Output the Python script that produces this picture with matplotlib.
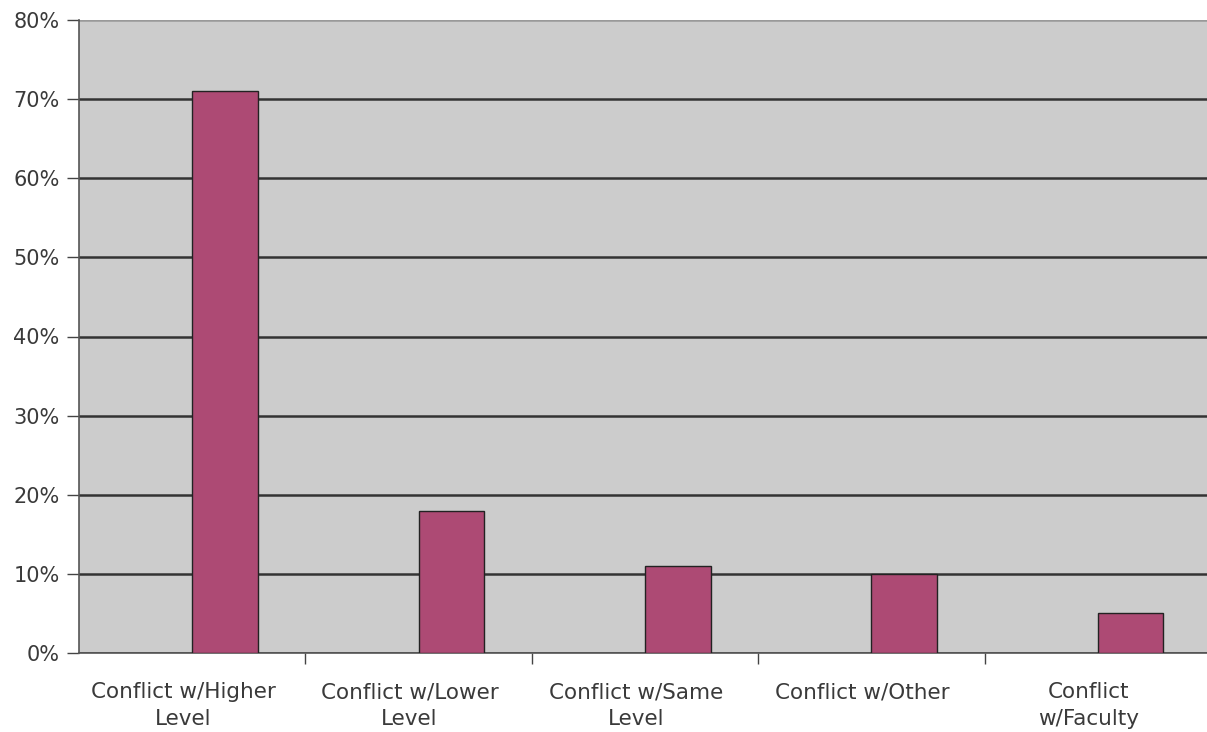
import matplotlib.pyplot as plt
import numpy as np
from matplotlib.ticker import PercentFormatter

categories = [
    "Conflict w/Higher\nLevel",
    "Conflict w/Lower\nLevel",
    "Conflict w/Same\nLevel",
    "Conflict w/Other",
    "Conflict\nw/Faculty",
]
values = [0.71, 0.18, 0.11, 0.10, 0.05]
y_ticks = [0.0, 0.1, 0.2, 0.3, 0.4, 0.5, 0.6, 0.7, 0.8]

bar_color = '#AD4A74'
text_color = '#3a3a3a'

fig = plt.figure(figsize=(12.07, 7.32), dpi=100)
ax = fig.add_axes([79 / 1207, 79 / 732, 1132 / 1207, 633 / 732])
ax.set_facecolor('#CCCCCC')

centers = np.arange(len(categories)) + 0.5
ax.bar(centers, values, width=0.29, align='edge', color=bar_color,
       edgecolor='#222222', linewidth=1.0, zorder=3)

ax.set_xlim(0, len(categories))
ax.set_ylim(0, 0.8)

ax.set_yticks(y_ticks)
ax.yaxis.set_major_formatter(PercentFormatter(1.0, decimals=0))
ax.tick_params(axis='y', length=9, width=1, color='#444444', direction='out',
               labelsize=15, labelcolor=text_color, pad=5)
ax.yaxis.grid(True, color='#333333', linewidth=1.8, zorder=1)
ax.get_ygridlines()[-1].set_color('#999999')
ax.set_axisbelow(True)

ax.set_xticks(centers - 0.04)
ax.set_xticklabels(categories, fontsize=15.5, color=text_color, linespacing=1.45)
ax.tick_params(axis='x', length=0, pad=21)
ax.set_xticks(np.arange(1, len(categories)), minor=True)
ax.tick_params(axis='x', which='minor', length=8, width=1, color='#444444', direction='out')

for side in ['top', 'right']:
    ax.spines[side].set_visible(False)
ax.spines['left'].set_color('#555555')
ax.spines['left'].set_linewidth(1.2)
ax.spines['bottom'].set_color('#555555')
ax.spines['bottom'].set_linewidth(1.2)

plt.savefig('out.png', dpi=100)
plt.close()
